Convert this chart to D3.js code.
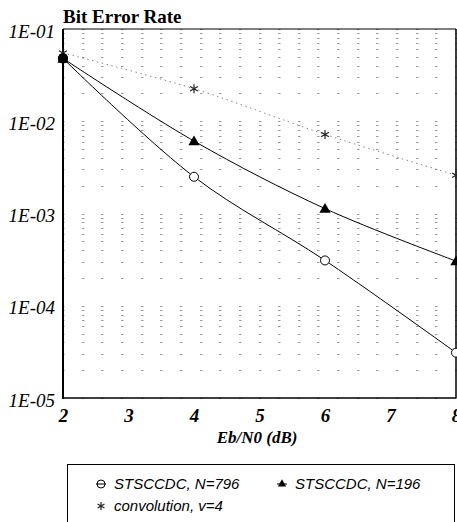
<!DOCTYPE html>
<html>
<head>
<meta charset="utf-8">
<script src="https://cdn.jsdelivr.net/npm/d3@7"></script>
<style>
  html, body { margin: 0; padding: 0; background: #fff; }
  svg { display: block; }
</style>
</head>
<body>
<svg id="chart" width="457" height="522"></svg>
<script>
// Eb/N0 points (dB)
const ebn0 = [2, 4, 6, 8];
// Bit error rate per scheme
const berN796 = [0.048, 0.0025, 0.00031, 0.000031];
const berN196 = [0.048, 0.0061, 0.00113, 0.000305];
const berConv = [0.055, 0.0225, 0.0072, 0.0026];
// Axis labels
const xTickLabels = ["2", "3", "4", "5", "6", "7", "8"];
const yTickLabels = ["1E-05", "1E-04", "1E-03", "1E-02", "1E-01"];
const seriesNames = ["STSCCDC, N=796", "STSCCDC, N=196", "convolution, v=4"];

const svg = d3.select("#chart");
const W = 457, H = 522;
const plot = { left: 63, right: 456, top: 29, bottom: 398 };

const x = d3.scaleLinear().domain([2, 8]).range([plot.left, plot.right]);
const y = d3.scaleLog().domain([1e-5, 1e-1]).range([plot.bottom, plot.top]);

const serif = "'Liberation Serif', 'Times New Roman', serif";
const sans = "'Liberation Sans', Arial, sans-serif";

svg.append("rect").attr("width", W).attr("height", H).attr("fill", "#fff");

// Dotted grid: short dashes where the 0.3 dB columns cross the log rows
const xGrid = d3.range(0, 21).map(k => 2 + 0.3 * k);
const yGrid = y.ticks();
const grid = svg.append("g").attr("stroke", "#9a9a9a").attr("stroke-width", 1);
yGrid.forEach(v => {
  xGrid.forEach(c => {
    const cx = Math.round(x(c)), cy = Math.round(y(v)) + 0.5;
    grid.append("line")
      .attr("x1", cx - 1).attr("x2", cx + 1.5)
      .attr("y1", cy).attr("y2", cy);
  });
});

// Frame
svg.append("line").attr("x1", plot.left).attr("x2", plot.right)
  .attr("y1", plot.top).attr("y2", plot.top)
  .attr("stroke", "#000").attr("stroke-width", 1.2);
svg.append("line").attr("x1", plot.left).attr("x2", plot.right)
  .attr("y1", plot.bottom).attr("y2", plot.bottom)
  .attr("stroke", "#000").attr("stroke-width", 1.5);
svg.append("line").attr("x1", plot.right).attr("x2", plot.right)
  .attr("y1", plot.top).attr("y2", plot.bottom)
  .attr("stroke", "#000").attr("stroke-width", 1.5);

// Axes (labels only; the frame carries the lines)
const yAxis = d3.axisLeft(y)
  .tickValues(yTickLabels.map(Number))
  .tickFormat((d, i) => yTickLabels[i])
  .tickSize(0).tickPadding(8);
const gy = svg.append("g").attr("transform", `translate(${plot.left},2)`).call(yAxis);
gy.select(".domain").remove();
gy.selectAll("text")
  .attr("font-family", serif).attr("font-style", "italic")
  .attr("font-size", 19).attr("fill", "#000");

const xAxis = d3.axisBottom(x)
  .tickValues(xTickLabels.map(Number))
  .tickFormat((d, i) => xTickLabels[i])
  .tickSize(0).tickPadding(11);
const gx = svg.append("g").attr("transform", `translate(0,${plot.bottom})`).call(xAxis);
gx.select(".domain").remove();
gx.selectAll("text")
  .attr("font-family", serif).attr("font-style", "italic").attr("font-weight", "bold")
  .attr("font-size", 19).attr("fill", "#000");

// Left axis line
svg.append("line").attr("x1", plot.left).attr("x2", plot.left)
  .attr("y1", plot.top).attr("y2", plot.bottom + 1)
  .attr("stroke", "#000").attr("stroke-width", 2);

// Titles
svg.append("text").attr("x", plot.left).attr("y", 23)
  .attr("font-family", serif).attr("font-weight", "bold").attr("font-size", 19)
  .text("Bit Error Rate");
svg.append("text").attr("x", 257).attr("y", 443).attr("text-anchor", "middle")
  .attr("font-family", serif).attr("font-weight", "bold").attr("font-style", "italic")
  .attr("font-size", 17)
  .text("Eb/N0 (dB)");

// Curves
const line = d3.line()
  .x(d => x(d[0])).y(d => y(d[1]))
  .curve(d3.curveCatmullRom.alpha(0.5));
const pairs = vals => ebn0.map((e, i) => [e, vals[i]]);

svg.append("path").datum(pairs(berConv)).attr("d", line)
  .attr("fill", "none").attr("stroke", "#888").attr("stroke-width", 1)
  .attr("stroke-dasharray", "1.5,3.5");
svg.append("path").datum(pairs(berN196)).attr("d", line)
  .attr("fill", "none").attr("stroke", "#000").attr("stroke-width", 1);
svg.append("path").datum(pairs(berN796)).attr("d", line)
  .attr("fill", "none").attr("stroke", "#000").attr("stroke-width", 1);

// Marker shapes
function starPath(r) {
  const p = d3.path();
  [90, 30, 150].forEach(a => {
    const t = a * Math.PI / 180;
    p.moveTo(r * Math.cos(t), -r * Math.sin(t));
    p.lineTo(-r * Math.cos(t), r * Math.sin(t));
  });
  return p.toString();
}
const triPath = d3.symbol().type(d3.symbolTriangle).size(55)();

function drawCircle(g, cx, cy) {
  g.append("circle").attr("cx", cx).attr("cy", cy).attr("r", 4.5)
    .attr("fill", "#fff").attr("stroke", "#000").attr("stroke-width", 1);
}
function drawTri(g, cx, cy) {
  g.append("path").attr("d", triPath).attr("transform", `translate(${cx},${cy + 1})`)
    .attr("fill", "#000");
}
function drawStar(g, cx, cy, r) {
  g.append("path").attr("d", starPath(r)).attr("transform", `translate(${cx},${cy})`)
    .attr("fill", "none").attr("stroke", "#222").attr("stroke-width", 1.2);
}

const marks = svg.append("g");
pairs(berConv).forEach(d => drawStar(marks, x(d[0]), y(d[1]), 4.5));
pairs(berN796).forEach(d => drawCircle(marks, x(d[0]), y(d[1])));
pairs(berN196).forEach(d => drawTri(marks, x(d[0]), y(d[1])));
// Overlapping start point renders as a solid blob
marks.append("circle").attr("cx", x(ebn0[0])).attr("cy", y(berN796[0])).attr("r", 5)
  .attr("fill", "#000");

// Legend
const lg = svg.append("g");
lg.append("rect").attr("x", 67.5).attr("y", 464.5).attr("width", 387).attr("height", 80)
  .attr("fill", "#fff").attr("stroke", "#000").attr("stroke-width", 1);

const legendItems = [
  { x: 101, y: 484, kind: "circle" },
  { x: 282, y: 484, kind: "tri" },
  { x: 101, y: 506, kind: "star" }
];
legendItems.forEach((it, i) => {
  if (it.kind !== "star") {
    lg.append("line").attr("x1", it.x - 5).attr("x2", it.x + 5)
      .attr("y1", it.y).attr("y2", it.y).attr("stroke", "#000").attr("stroke-width", 1);
  }
  if (it.kind === "circle") {
    lg.append("circle").attr("cx", it.x).attr("cy", it.y).attr("r", 4)
      .attr("fill", "none").attr("stroke", "#000").attr("stroke-width", 1);
  } else if (it.kind === "tri") {
    lg.append("path").attr("d", d3.symbol().type(d3.symbolTriangle).size(30)())
      .attr("transform", `translate(${it.x},${it.y})`).attr("fill", "#000");
  } else {
    drawStar(lg, it.x, it.y, 4);
  }
  lg.append("text").attr("x", it.x + 13).attr("y", it.y + 5)
    .attr("font-family", sans).attr("font-style", "italic").attr("font-size", 15)
    .text(seriesNames[i]);
});
</script>
</body>
</html>
